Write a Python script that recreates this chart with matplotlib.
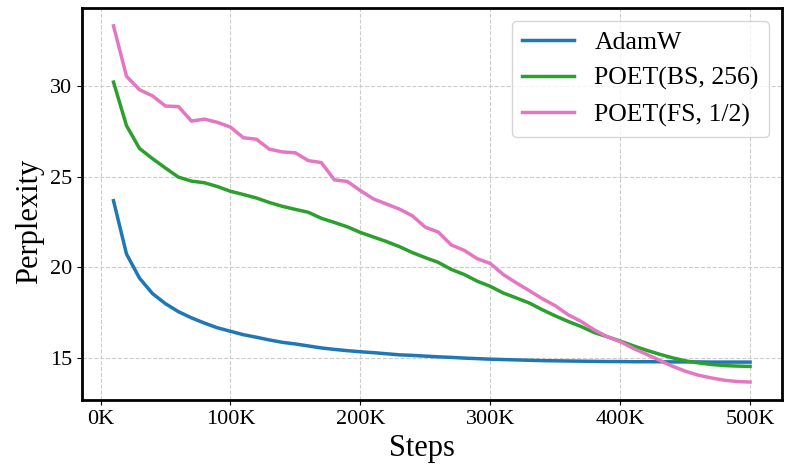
import numpy as np
from matplotlib import pyplot as plt

plt.rcParams['font.family'] = ['Liberation Serif', 'DejaVu Serif']

steps = np.arange(10000, 500001, 10000)

adamw = [23.68, 20.74, 19.41, 18.56, 18.0, 17.56, 17.22, 16.93, 16.67, 16.48,
         16.29, 16.15, 16.0, 15.87, 15.78, 15.67, 15.56, 15.48, 15.41, 15.35,
         15.3, 15.24, 15.18, 15.15, 15.11, 15.07, 15.04, 15.0, 14.97, 14.94,
         14.92, 14.9, 14.88, 14.86, 14.85, 14.84, 14.83, 14.82, 14.81, 14.81,
         14.8, 14.8, 14.8, 14.79, 14.79, 14.79, 14.78, 14.78, 14.78, 14.78]

poet_bs = [30.22, 27.82, 26.56, 26.0, 25.48, 24.98, 24.76, 24.67, 24.46, 24.2,
           24.02, 23.83, 23.58, 23.37, 23.2, 23.04, 22.71, 22.48, 22.24, 21.93,
           21.68, 21.43, 21.15, 20.82, 20.54, 20.28, 19.89, 19.61, 19.24, 18.96,
           18.59, 18.32, 18.04, 17.67, 17.33, 17.02, 16.74, 16.41, 16.18, 15.94,
           15.68, 15.44, 15.22, 15.02, 14.85, 14.74, 14.65, 14.59, 14.56, 14.54]

poet_fs = [33.32, 30.54, 29.8, 29.46, 28.9, 28.87, 28.07, 28.18, 28.0, 27.74,
           27.15, 27.07, 26.52, 26.37, 26.32, 25.89, 25.78, 24.83, 24.74, 24.24,
           23.78, 23.5, 23.22, 22.85, 22.22, 21.95, 21.24, 20.94, 20.48, 20.22,
           19.61, 19.15, 18.72, 18.28, 17.89, 17.39, 17.02, 16.56, 16.18, 15.91,
           15.54, 15.22, 14.89, 14.56, 14.28, 14.06, 13.91, 13.78, 13.71, 13.68]

fig = plt.figure(figsize=(7.93, 4.76), dpi=100)
ax = fig.add_axes([0.103, 0.16, 0.883, 0.823])

ax.plot(steps, adamw, color='#1f77b4', lw=2.5, label='AdamW')
ax.plot(steps, poet_bs, color='#2ca02c', lw=2.5, label='POET(BS, 256)')
ax.plot(steps, poet_fs, color='#e377c2', lw=2.5, label='POET(FS, 1/2)')

ax.set_xticks(np.arange(0, 500001, 100000))
ax.set_xticklabels([f'{int(t/1000)}K' for t in np.arange(0, 500001, 100000)])
ax.set_yticks([15, 20, 25, 30])
ax.tick_params(labelsize=16)
ax.set_xlabel('Steps', fontsize=22, x=0.486)
ax.set_ylabel('Perplexity', fontsize=22, y=0.455)
ax.grid(True, linestyle='--', color='#cccccc', linewidth=0.8)
for s in ax.spines.values():
    s.set_linewidth(2)
ax.legend(loc='upper right', fontsize=18.5, borderaxespad=0.5)

fig.savefig('out.png', dpi=100)
